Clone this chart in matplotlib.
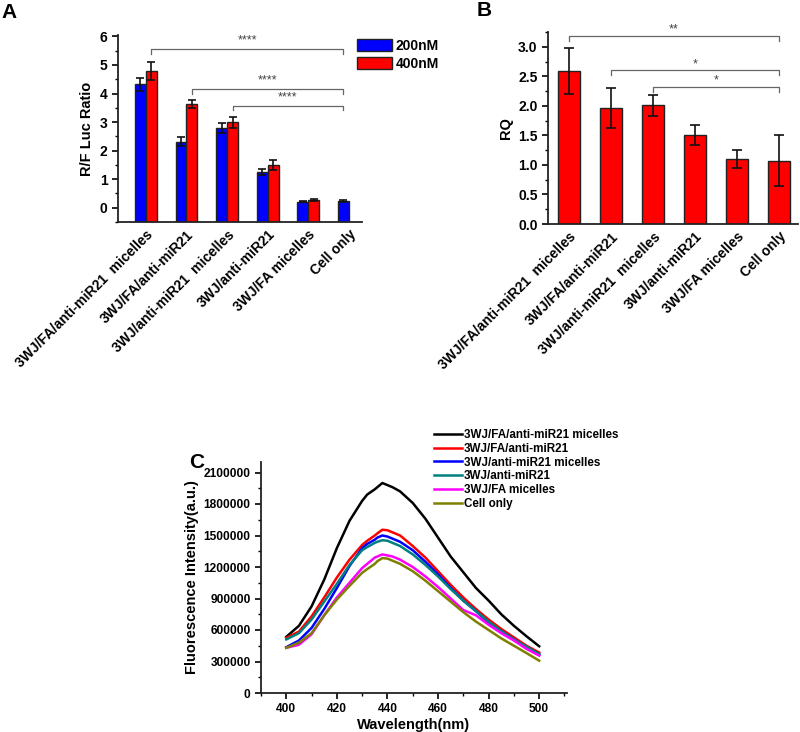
import numpy as np
import matplotlib
matplotlib.use('Agg')
import matplotlib.pyplot as plt
from matplotlib.ticker import MultipleLocator, FixedLocator
from matplotlib.patches import Patch

plt.rcParams['font.family'] = ['Liberation Sans', 'DejaVu Sans']
plt.rcParams['font.weight'] = 'bold'
plt.rcParams['axes.labelweight'] = 'bold'

# ---------------- data ----------------
categories = ["3WJ/FA/anti-miR21  micelles", "3WJ/FA/anti-miR21",
              "3WJ/anti-miR21  micelles", "3WJ/anti-miR21",
              "3WJ/FA micelles", "Cell only"]

# Panel A: R/F Luc ratio
a_200 = [4.32, 2.31, 2.80, 1.26, 0.21, 0.24]
a_200_err = [0.23, 0.16, 0.17, 0.11, 0.02, 0.03]
a_400 = [4.78, 3.62, 2.99, 1.49, 0.27, np.nan]
a_400_err = [0.32, 0.14, 0.18, 0.17, 0.03, np.nan]
a_series = ["200nM", "400nM"]
a_sig = ["****", "****", "****"]

# Panel B: RQ
b_rq = [2.59, 1.97, 2.01, 1.50, 1.10, 1.07]
b_err = [0.39, 0.34, 0.18, 0.17, 0.15, 0.43]
b_sig = ["**", "*", "*"]

# Panel C: fluorescence spectra
wavelength = [400, 405, 410, 415, 420, 425, 430, 432, 435, 436, 438, 440, 442,
              445, 450, 455, 460, 465, 470, 475, 480, 485, 490, 495, 500]
c_black = [535000, 640000, 825000, 1080000, 1380000, 1640000, 1830000, 1890000,
           1940000, 1960000, 2000000, 1980000, 1960000, 1920000, 1810000,
           1660000, 1480000, 1300000, 1150000, 1000000, 880000, 750000, 640000,
           540000, 445000]
c_red = [525000, 585000, 730000, 910000, 1100000, 1270000, 1410000, 1450000,
         1500000, 1520000, 1555000, 1550000, 1530000, 1500000, 1400000,
         1290000, 1160000, 1030000, 910000, 800000, 700000, 610000, 530000,
         450000, 385000]
c_blue = [436000, 500000, 620000, 800000, 1000000, 1210000, 1380000, 1420000,
          1460000, 1480000, 1500000, 1490000, 1470000, 1440000, 1360000,
          1250000, 1130000, 1000000, 880000, 780000, 670000, 590000, 510000,
          430000, 365000]
c_teal = [510000, 570000, 700000, 870000, 1040000, 1220000, 1360000, 1390000,
          1430000, 1440000, 1455000, 1450000, 1430000, 1400000, 1320000,
          1220000, 1110000, 990000, 880000, 780000, 680000, 590000, 510000,
          440000, 372000]
c_magenta = [430000, 460000, 560000, 740000, 910000, 1050000, 1190000, 1230000,
             1290000, 1300000, 1320000, 1310000, 1300000, 1270000, 1200000,
             1110000, 1010000, 900000, 790000, 740000, 650000, 570000, 500000,
             420000, 356000]
c_olive = [430000, 480000, 570000, 740000, 890000, 1020000, 1145000, 1180000,
           1230000, 1255000, 1285000, 1280000, 1260000, 1230000, 1160000,
           1070000, 970000, 870000, 770000, 680000, 600000, 520000, 450000,
           380000, 308000]
c_labels = ["3WJ/FA/anti-miR21 micelles", "3WJ/FA/anti-miR21",
            "3WJ/anti-miR21 micelles", "3WJ/anti-miR21",
            "3WJ/FA micelles", "Cell only"]
c_colors = ["#000000", "#ff0000", "#0000ff", "#008080", "#ff00ff", "#808000"]

W, H = 800, 732
fig = plt.figure(figsize=(W / 100, H / 100), dpi=100)


def ax_rect(l, t, r, b):
    return [l / W, 1 - b / H, (r - l) / W, (b - t) / H]


def style_axes(ax):
    for s in ['top', 'right']:
        ax.spines[s].set_visible(False)
    for s in ['left', 'bottom']:
        ax.spines[s].set_linewidth(1.3)
        ax.spines[s].set_color('#222222')


def bracket(ax, x0, x1, y, h, text, ty, fs=9):
    ax.plot([x0, x0, x1, x1], [y - h, y, y, y - h], color='#666666', lw=0.9,
            clip_on=False)
    ax.text((x0 + x1) / 2, ty, text, ha='center', va='center', fontsize=fs,
            color='#444444', fontweight='normal')


# ---------------- Panel A ----------------
axA = fig.add_axes(ax_rect(118, 35, 362, 222))
style_axes(axA)
x = np.arange(len(categories))
bw = 0.27
ybot = -0.5
a200 = np.array(a_200)
a400 = np.array(a_400)
axA.bar(x - bw / 2, a200 - ybot, bottom=ybot, width=bw, color='#0000ff',
        edgecolor='#222222', lw=1.0)
axA.bar(x + bw / 2, a400 - ybot, bottom=ybot, width=bw, color='#ff0000',
        edgecolor='#222222', lw=1.0)
axA.errorbar(x - bw / 2, a200, yerr=a_200_err, fmt='none', ecolor='#111111',
             elinewidth=1.2, capsize=2.8, capthick=1.2)
axA.errorbar(x + bw / 2, a400, yerr=a_400_err, fmt='none', ecolor='#111111',
             elinewidth=1.2, capsize=2.8, capthick=1.2)
axA.set_xlim(-0.69, 5.33)
axA.set_ylim(-0.5, 6.05)
axA.yaxis.set_major_locator(FixedLocator([0, 1, 2, 3, 4, 5, 6]))
axA.yaxis.set_minor_locator(MultipleLocator(0.5))
axA.tick_params(axis='y', which='major', direction='out', length=4, width=1.2,
                labelsize=10)
axA.tick_params(axis='y', which='minor', direction='out', length=2, width=1.0)
axA.set_xticks(x)
axA.set_xticklabels(categories, rotation=45, ha='right', rotation_mode='anchor',
                    fontsize=10)
axA.tick_params(axis='x', length=0, pad=4)
axA.set_ylabel("R/F Luc Ratio", fontsize=10.5, labelpad=4)
end = 5 - bw / 2
bracket(axA, 0 + bw / 2, end, 5.57, 0.17, a_sig[0], 5.86)
bracket(axA, 1 + bw / 2, end, 4.17, 0.17, a_sig[1], 4.46)
bracket(axA, 2 + bw / 2, end, 3.58, 0.17, a_sig[2], 3.87)
handles = [Patch(facecolor='#0000ff', edgecolor='#222222', lw=1.0),
           Patch(facecolor='#ff0000', edgecolor='#222222', lw=1.0)]
fig.legend(handles, a_series, loc='upper left',
           bbox_to_anchor=(357 / W, 1 - 39 / H), frameon=False, fontsize=10,
           handlelength=2.5, handleheight=0.95, labelspacing=0.3,
           handletextpad=0.3, borderpad=0, borderaxespad=0)

# ---------------- Panel B ----------------
axB = fig.add_axes(ax_rect(548, 32, 798, 224))
style_axes(axB)
axB.bar(x, b_rq, width=0.52, color='#ff0000', edgecolor='#222222', lw=1.0)
axB.errorbar(x, b_rq, yerr=b_err, fmt='none', ecolor='#111111',
             elinewidth=1.2, capsize=3.5, capthick=1.2)
axB.set_xlim(-0.5, 5.45)
axB.set_ylim(0, 3.25)
axB.yaxis.set_major_locator(MultipleLocator(0.5))
axB.yaxis.set_minor_locator(MultipleLocator(0.25))
axB.yaxis.set_major_formatter(matplotlib.ticker.FormatStrFormatter('%.1f'))
axB.tick_params(axis='y', which='major', direction='out', length=4, width=1.2,
                labelsize=10)
axB.tick_params(axis='y', which='minor', direction='out', length=2, width=1.0)
axB.set_xticks(x)
axB.set_xticklabels(categories, rotation=45, ha='right', rotation_mode='anchor',
                    fontsize=10)
axB.tick_params(axis='x', length=0, pad=4)
axB.set_ylabel("RQ", fontsize=10.5, labelpad=4)
bracket(axB, 0, 5, 3.175, 0.085, b_sig[0], 3.30)
bracket(axB, 1, 5, 2.60, 0.085, b_sig[1], 2.70)
bracket(axB, 2, 5, 2.32, 0.085, b_sig[2], 2.43)

# ---------------- Panel C ----------------
axC = fig.add_axes(ax_rect(261, 462, 567, 693))
style_axes(axC)
series = [c_black, c_red, c_blue, c_teal, c_magenta, c_olive]
lines = []
for ys, col, lab in zip(series, c_colors, c_labels):
    ln, = axC.plot(wavelength, ys, color=col, lw=1.8, label=lab)
    lines.append(ln)
axC.set_xlim(390, 511)
axC.set_ylim(0, 2200000)
axC.xaxis.set_major_locator(MultipleLocator(20))
axC.xaxis.set_minor_locator(MultipleLocator(10))
axC.yaxis.set_major_locator(MultipleLocator(300000))
axC.yaxis.set_minor_locator(MultipleLocator(150000))
axC.yaxis.set_major_formatter(matplotlib.ticker.FormatStrFormatter('%d'))
axC.tick_params(which='major', direction='out', length=4, width=1.2,
                labelsize=8.6)
axC.tick_params(which='minor', direction='out', length=2, width=1.0)
axC.set_xlabel("Wavelength(nm)", fontsize=10.5, labelpad=2)
axC.set_ylabel("Fluorescence Intensity(a.u.)", fontsize=10.5, labelpad=3)
fig.legend(lines, c_labels, loc='upper left',
           bbox_to_anchor=(434 / W, 1 - 429 / H), frameon=False, fontsize=8.4,
           handlelength=2.4, labelspacing=0.15, handletextpad=0.15,
           borderpad=0, borderaxespad=0)

# panel letters
fig.text(9.5 / W, 1 - 12.5 / H, "A", fontsize=15, fontweight='bold',
         ha='center', va='center')
fig.text(484.5 / W, 1 - 10.5 / H, "B", fontsize=15, fontweight='bold',
         ha='center', va='center')
fig.text(197 / W, 1 - 463 / H, "C", fontsize=15, fontweight='bold',
         ha='center', va='center')

fig.savefig("out.png", dpi=100)
